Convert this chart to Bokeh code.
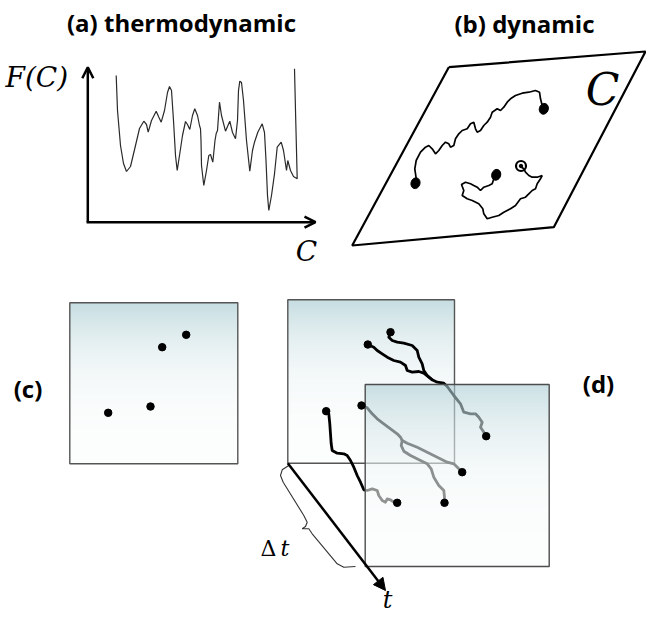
import numpy as np
from bokeh.plotting import figure
from bokeh.models import Range1d, Arrow, OpenHead, NormalHead
from bokeh.core.properties import value
from bokeh.embed import file_html
from bokeh.resources import INLINE

IMG_H = 619  # reference picture height, y values below are read top-down


def Y(a):
    return IMG_H - np.asarray(a, dtype=float)


# ---------------- panel (a): free-energy landscape ----------------
curve_x = [115.7, 117, 120, 123, 126, 130, 135, 139, 143.3, 146, 147.7, 151, 155.7, 158, 160.7,
           164, 167, 169, 171, 173, 175, 176.7, 179, 182, 185, 187, 189.3, 192, 194.3, 197, 199,
           200, 200.5, 201, 203.3, 206, 208.3, 210, 212.3, 214.5, 215.7, 217, 219, 221, 225, 227,
           229.3, 232, 235, 237, 238, 239.3, 241, 243, 246, 249.3, 252, 254, 257.3, 261.7, 264,
           265.5, 267, 268.3, 271, 274, 276.7, 280.7, 283, 286, 287.3, 290, 293, 296.7, 296, 295,
           294]
curve_y = [75, 110, 145, 163, 171, 166, 145, 128, 120.7, 124, 131.7, 120, 110.7, 116, 121.7,
           110, 92, 86, 90, 120, 155, 170, 155, 135, 121, 124, 129, 115, 108.3, 115, 125,
           128.3, 140, 165, 185, 170, 155, 154, 161.7, 140, 133, 130, 101.7, 115, 130.7, 126,
           120.7, 132, 138.3, 120, 90, 80.7, 82, 100, 140, 170.7, 150, 141.7, 131.7, 123.3, 132,
           160, 195, 210, 195, 173.3, 146.7, 141.7, 150, 170, 160, 170, 176, 178.3, 150, 110,
           68.3]
axis_origin = (87.3, 221.7)
axis_y_tip = (87.3, 66.7)
axis_x_tip = (315, 221.7)

# ---------------- panel (b): configuration-space trajectories ----------------
plane_x = [448.3, 645, 553.3, 351.7, 448.3]
plane_y = [66.7, 51, 226.7, 245, 66.7]
traj1_x = [416, 414.3, 415.7, 420, 425, 428.3, 431.7, 435, 438.3, 441.7, 445, 448.3, 450, 453.3,
           455, 458.3, 461.7, 466.7, 470, 473.3, 475, 476.7, 480, 483.3, 486.7, 490, 491.7, 496.7,
           500, 503.3, 506.7, 510, 515, 521.7, 528.3, 535, 539, 540, 541.7, 543.3]
traj1_y = [180, 168.3, 160, 151.7, 146.7, 145, 148.3, 153.3, 150, 145, 141.7, 143.3, 146.7, 145,
           138.3, 133.3, 130, 128.3, 123.3, 121.7, 128.3, 131.7, 130, 125, 121.7, 116.7, 111.7,
           108.3, 110, 106.7, 101.7, 98.3, 95, 92.7, 91.7, 90, 91.7, 98.3, 105, 108.3]
traj2_x = [493.3, 491.7, 488.3, 483.3, 480, 476.7, 473.3, 470, 465, 461, 463.3, 461.7, 466.7,
           471.7, 478.3, 482.3, 483.3, 486.7, 491.7, 498.3, 503.3, 510, 515, 520, 525, 528.3,
           531.7, 535, 536.7, 540, 541.7, 536.7, 531.7, 528.3, 525, 523.3, 520]
traj2_y = [178.3, 183.3, 185, 186.7, 190, 186.7, 185, 183.3, 181.7, 184, 190, 195, 198.3,
           200, 203.3, 208.3, 213.3, 218.3, 216.7, 215, 211.7, 208.3, 205, 198.3, 196.7, 193.3,
           190, 188.3, 183.3, 178.3, 175, 176.7, 176.7, 175, 171.7, 168.3, 166]
bdots_x = [415, 543.3, 495.7]
bdots_y = [182.7, 108.3, 174.3]
spiral_x = [520.5]
spiral_y = [165.5]

# ---------------- panel (c): particle snapshot ----------------
sq_c = (69.3, 237.3, 302.3, 463.3)  # left, right, top, bottom
cdots_x = [185.7, 161.7, 150, 107.7]
cdots_y = [334.3, 346.7, 406, 412.3]

# ---------------- panel (d): two snapshots and tracks ----------------
sq_back = (287.3, 454, 299.3, 462.7)
sq_front = (364.7, 548.7, 384, 566)
tracks = [
    [(390, 331.7), (388.3, 336.7), (391.7, 340), (396.7, 341.7), (403.3, 342.7), (411.7, 345),
     (416.7, 350), (418.3, 356.7), (421.7, 363.3), (423.3, 370), (426.7, 375), (431.7, 379.3),
     (436.7, 381.7), (443.3, 382.7), (446.7, 386), (453.3, 395), (460, 403.3), (463.3, 411.7),
     (470, 413.3), (475, 413.3), (478.3, 416.7), (481.7, 421.7), (480, 426.7), (482.7, 430.7),
     (485.7, 435.7)],
    [(367.3, 344), (373.3, 346.7), (376.7, 350), (381.7, 353.3), (386.7, 356.7), (393.3, 360),
     (400, 361.7), (405, 365), (406.7, 370), (411.7, 371.7), (418.3, 371), (423.3, 372.7),
     (428.3, 376.7), (431.7, 379.3)],
    [(325.7, 410.7), (328.3, 413.3), (329.3, 423.3), (330, 433.3), (330.7, 443.3), (331.7, 450),
     (336.7, 452.7), (343.3, 453.3), (346.7, 455), (350, 460), (353.3, 466.7), (356.7, 475),
     (360, 481.7), (363.3, 489.3), (366.7, 490), (371.7, 488.3), (376.7, 490), (378.3, 495),
     (381.7, 500), (385, 501.7), (386.7, 498.3), (390, 499.3), (393.3, 501.7), (396.7, 502.3)],
    [(361, 405), (366.7, 407.3), (371.7, 413.3), (376.7, 418.3), (383.3, 423.3), (390, 428.3),
     (396.7, 433.3), (400, 436.7), (401.7, 440), (406.7, 442.7), (416.7, 446.7), (426.7, 451.7),
     (436.7, 456.7), (446.7, 461.7), (453.3, 463.3), (458.3, 468.3), (461.7, 471.7)],
    [(401.7, 440), (400.7, 445), (403.3, 450.7), (410, 455), (420, 460), (426.7, 463.3),
     (430.7, 468.3), (433.3, 476.7), (438.3, 485), (443.3, 490), (444, 496.7), (444, 502.3)],
]
start_x = [390, 367.3, 325.7, 361]
start_y = [331.7, 344, 410.7, 405]
end_x = [485.7, 461.7, 444, 396.7]
end_y = [435.7, 471.7, 502.3, 502.3]
time_arrow = ((287.3, 462.7), (385, 590))
brace_x = [288.3, 281.7, 280, 282.7, 303.3, 306.7, 305, 301.7, 308.3, 311.7, 336.7, 343.3, 355]
brace_y = [465, 469.3, 475, 481.7, 515, 521.7, 526, 528.3, 528.3, 533.3, 563.3, 566.7, 566]

# ---------------- labels ----------------
title_text = ["(a) thermodynamic", "(b) dynamic", "(c)", "(d)"]
title_x = [181, 524, 27.5, 598]
title_y = [21.7, 23, 388.3, 383]

# ------------------------------------------------------------------
FIG_W, FIG_H = 646, 615
p = figure(width=FIG_W, height=FIG_H, x_range=Range1d(0, FIG_W), y_range=Range1d(IMG_H - FIG_H, IMG_H),
           output_backend="svg", toolbar_location=None, x_axis_location=None,
           y_axis_location=None, min_border=0, outline_line_color=None,
           background_fill_color="white", border_fill_color="white")
p.grid.visible = False

INK = "black"

# (a)
p.line(curve_x, Y(curve_y), line_color="#2a2a2a", line_width=1.2)
p.add_layout(Arrow(end=OpenHead(size=11, line_width=2.5, line_color=INK),
                   x_start=axis_origin[0], y_start=float(Y(axis_origin[1])),
                   x_end=axis_y_tip[0], y_end=float(Y(axis_y_tip[1])),
                   line_width=2.5, line_color=INK))
p.add_layout(Arrow(end=OpenHead(size=11, line_width=2.5, line_color=INK),
                   x_start=axis_origin[0] - 1.2, y_start=float(Y(axis_origin[1])),
                   x_end=axis_x_tip[0], y_end=float(Y(axis_x_tip[1])),
                   line_width=2.5, line_color=INK))
p.text(x=[5], y=Y([77]), text=["F(C)"], text_font=value("DejaVu Serif"), text_font_style="italic",
       text_font_size="28px", text_align="left", text_baseline="middle", text_color=INK)
p.text(x=[306], y=Y([251]), text=["C"], text_font=value("DejaVu Serif"), text_font_style="italic",
       text_font_size="28px", text_align="center", text_baseline="middle", text_color=INK)

# (b)
p.line(plane_x, Y(plane_y), line_color=INK, line_width=2.2)
p.line(traj1_x, Y(traj1_y), line_color=INK, line_width=1.7)
p.line(traj2_x, Y(traj2_y), line_color=INK, line_width=1.7)
p.ellipse(bdots_x, Y(bdots_y), width=9, height=11, angle=-0.3, fill_color=INK, line_color=INK)
p.scatter(spiral_x, Y(spiral_y), size=10, marker="circle", fill_color=None, line_color=INK, line_width=2.2)
p.scatter(spiral_x, Y(spiral_y), size=3.5, marker="circle", fill_color=INK, line_color=INK)
p.text(x=[602], y=Y([89]), text=["C"], text_font=value("DejaVu Serif"), text_font_style="italic",
       text_font_size="44px", text_align="center", text_baseline="middle", text_color=INK)


def gradient(top_rgb, bottom_rgb, alpha, n=160, power=3.0):
    img = np.empty((n, 2), dtype=np.uint32)
    view = img.view(dtype=np.uint8).reshape((n, 2, 4))
    top = np.array(top_rgb, dtype=float)
    bot = np.array(bottom_rgb, dtype=float)
    for i in range(n):
        f = (i / (n - 1)) ** power  # row 0 = bottom of image
        c = bot + (top - bot) * f
        view[i, :, 0] = int(round(c[0]))
        view[i, :, 1] = int(round(c[1]))
        view[i, :, 2] = int(round(c[2]))
        view[i, :, 3] = alpha
    return img


def square_image(sq, top_rgb, bottom_rgb, alpha):
    l, r, t, b = sq
    p.image_rgba(image=[gradient(top_rgb, bottom_rgb, alpha)], x=l, y=float(Y(b)), dw=r - l, dh=b - t)


def square_border(sq, color="#555555"):
    l, r, t, b = sq
    p.quad(left=[l], right=[r], top=[float(Y(t))], bottom=[float(Y(b))], fill_color=None,
           line_color=color, line_width=1.4)


TOP = (198, 221, 225)
BOTTOM = (252, 253, 253)

# (c)
square_image(sq_c, TOP, BOTTOM, 255)
square_border(sq_c)
p.scatter(cdots_x, Y(cdots_y), size=7.5, marker="circle", fill_color=INK, line_color=INK)

# (d) back snapshot
square_image(sq_back, TOP, BOTTOM, 255)
square_border(sq_back)
p.multi_line([[pt[0] for pt in tr] for tr in tracks], [list(Y([pt[1] for pt in tr])) for tr in tracks],
             line_color=INK, line_width=2.8, line_join="round", line_cap="round")
# front snapshot (translucent)
square_image(sq_front, (168, 203, 209), (250, 252, 252), 150)
square_border(sq_front, "#4d4d4d")
p.scatter(start_x, Y(start_y), size=7.5, marker="circle", fill_color=INK, line_color=INK)
p.scatter(end_x, Y(end_y), size=7.5, marker="circle", fill_color=INK, line_color=INK)

# time arrow and brace
(ax0, ay0), (ax1, ay1) = time_arrow
p.add_layout(Arrow(end=NormalHead(size=12, fill_color=INK, line_color=INK),
                   x_start=ax0, y_start=float(Y(ay0)), x_end=ax1, y_end=float(Y(ay1)),
                   line_width=2.5, line_color=INK))
p.line(brace_x, Y(brace_y), line_color="#333333", line_width=1.1)
p.text(x=[268], y=Y([548]), text=["Δ"], text_font=value("DejaVu Serif"),
       text_font_size="22px", text_align="center", text_baseline="middle", text_color=INK)
p.text(x=[284.5], y=Y([548]), text=["t"], text_font=value("DejaVu Serif"), text_font_style="italic",
       text_font_size="22px", text_align="center", text_baseline="middle", text_color=INK)
p.text(x=[387], y=Y([599]), text=["t"], text_font=value("DejaVu Serif"), text_font_style="italic",
       text_font_size="24px", text_align="center", text_baseline="middle", text_color=INK)

# panel titles
p.text(x=title_x, y=Y(title_y), text=title_text, text_font=value("Open Sans"), text_font_style="bold",
       text_font_size="24px", text_align="center", text_baseline="middle", text_color=INK)

open("out.html", "w").write(file_html(p, INLINE))
